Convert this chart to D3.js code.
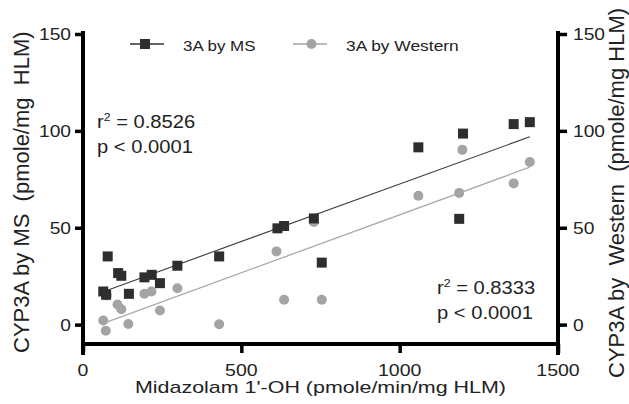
<!DOCTYPE html>
<html>
<head>
<meta charset="utf-8">
<script src="https://cdn.jsdelivr.net/npm/d3@7"></script>
<style>
  html, body { margin: 0; padding: 0; background: #fff; }
  svg { display: block; }
  text { font-family: "Liberation Sans", Arial, Helvetica, sans-serif; fill: #222; }
</style>
</head>
<body>
<svg id="chart" width="629" height="404"></svg>
<script>
// ---- data ----
const msX = [64, 73, 78, 111, 121, 145, 194, 217, 243, 298, 430, 614, 635, 729, 754, 1059, 1188, 1200, 1360, 1411];
const msY = [17.1, 15.4, 35.2, 26.6, 25.2, 15.9, 24.4, 25.7, 21.4, 30.4, 35.2, 49.7, 50.9, 54.8, 32.0, 91.5, 54.6, 98.6, 103.5, 104.5];
const wbX = [64, 72, 75, 109, 121, 143, 194, 216, 243, 298, 430, 611, 635, 729, 754, 1059, 1188, 1198, 1360, 1411];
const wbY = [2.1, -3.1, 15.0, 10.4, 7.9, 0.3, 15.9, 17.1, 7.3, 18.8, 0.2, 37.8, 12.8, 53.0, 12.8, 66.5, 68.0, 90.2, 72.9, 83.9];
const xTicks = [0, 500, 1000, 1500];
const yTicks = [0, 50, 100, 150];
const seriesNames = ["3A by MS", "3A by Western"];
const statsMS = ["0.8526", "p < 0.0001"];
const statsWB = ["0.8333", "p < 0.0001"];
const xTitle = "Midazolam 1'-OH (pmole/min/mg HLM)";
const yTitleL = "CYP3A by MS\u00a0\u00a0(pmole/mg\u00a0\u00a0HLM)";
const yTitleR = "CYP3A by\u00a0\u00a0Western\u00a0\u00a0(pmole/mg HLM)";

const svg = d3.select("#chart");
const x = d3.scaleLinear().domain([0, 1500]).range([83, 558]);
const y = d3.scaleLinear().domain([-10, 150]).range([344, 34]);

const darkCol = "#2e2e2e", lightCol = "#a4a4a4";

// regression
function fit(xs, ys) {
  const mx = d3.mean(xs), my = d3.mean(ys);
  let sxy = 0, sxx = 0;
  xs.forEach((v, i) => { sxy += (v - mx) * (ys[i] - my); sxx += (v - mx) * (v - mx); });
  const b = sxy / sxx, a = my - b * mx;
  const x0 = d3.min(xs), x1 = d3.max(xs);
  return [[x0, a + b * x0], [x1, a + b * x1]];
}
const line = d3.line().x(d => x(d[0])).y(d => y(d[1]));

svg.append("path").attr("d", line(fit(wbX, wbY)))
  .attr("stroke", "#a8a8a8").attr("stroke-width", 1.3).attr("fill", "none");
svg.append("path").attr("d", line(fit(msX, msY)))
  .attr("stroke", "#3a3a3a").attr("stroke-width", 1.1).attr("fill", "none");

// points
svg.append("g").selectAll("circle").data(wbX).join("circle")
  .attr("cx", (d) => x(d)).attr("cy", (d, i) => y(wbY[i])).attr("r", 5)
  .attr("fill", lightCol);
svg.append("g").selectAll("rect").data(msX).join("rect")
  .attr("x", d => x(d) - 5).attr("y", (d, i) => y(msY[i]) - 5)
  .attr("width", 10).attr("height", 10).attr("fill", darkCol);

// axes
const axW = 4;
const left = svg.append("g").attr("transform", "translate(83,0)")
  .call(d3.axisLeft(y).tickValues(yTicks).tickSize(8).tickSizeOuter(0).tickFormat(""));
const right = svg.append("g").attr("transform", "translate(558,0)")
  .call(d3.axisRight(y).tickValues(yTicks).tickSize(9).tickSizeOuter(0).tickFormat(""));
const bottom = svg.append("g").attr("transform", "translate(0,344)")
  .call(d3.axisBottom(x).tickValues(xTicks).tickSize(9).tickSizeOuter(0).tickFormat(""));
[left, right, bottom].forEach(g => {
  g.select(".domain").attr("stroke", "#000").attr("stroke-width", axW).attr("stroke-linecap", "square");
  g.selectAll(".tick line").attr("stroke", "#000").attr("stroke-width", axW - 0.5);
});
// vertical axis lines extend down to the x tick length
left.select(".domain").attr("d", `M0,${y(150) - 1}V${344 + 9}`);
right.select(".domain").attr("d", `M0,${y(150) - 1}V${344 + 9}`);
bottom.select(".domain").attr("d", `M83,0H558`);

function sText(px, py, str, size, sx, anchor) {
  return svg.append("text").attr("transform", `translate(${px},${py}) scale(${sx},1)`)
    .attr("font-size", size).attr("text-anchor", anchor || "start").text(str);
}

// tick labels
yTicks.forEach(v => {
  sText(71, y(v) + 6, String(v), 16, 1.2, "end");
  sText(573, y(v) + 6, String(v), 16, 1.2, "start");
});
xTicks.forEach(v => sText(x(v), 376, String(v), 16, 1.22, "middle"));

// axis titles
svg.append("text").attr("x", 320.5).attr("y", 393).attr("font-size", 17)
  .attr("text-anchor", "middle").attr("textLength", 371).attr("lengthAdjust", "spacingAndGlyphs")
  .text(xTitle);
svg.append("text").attr("transform", "translate(28.5,353) rotate(-90)")
  .attr("font-size", 22).attr("text-anchor", "start").text(yTitleL);
svg.append("text").attr("transform", "translate(624,378) rotate(-90)")
  .attr("font-size", 22).attr("text-anchor", "start").text(yTitleR);

// legend
const lg = svg.append("g");
lg.append("line").attr("x1", 130).attr("x2", 164).attr("y1", 44).attr("y2", 44).attr("stroke", "#333").attr("stroke-width", 1.5);
lg.append("rect").attr("x", 140).attr("y", 39).attr("width", 10).attr("height", 10).attr("fill", darkCol);
lg.append("line").attr("x1", 293).attr("x2", 327).attr("y1", 44).attr("y2", 44).attr("stroke", lightCol).attr("stroke-width", 1.5);
lg.append("circle").attr("cx", 311.5).attr("cy", 44).attr("r", 5).attr("fill", lightCol);
sText(183, 50.5, seriesNames[0], 15, 1.13);
sText(346, 50.5, seriesNames[1], 15, 1.16);

// annotations
function stat(px, py, vals) {
  const t = svg.append("text").attr("transform", `translate(${px},${py}) scale(1.12,1)`).attr("font-size", 18);
  t.append("tspan").text("r");
  t.append("tspan").attr("font-size", 11).attr("dy", -7).text("2");
  t.append("tspan").attr("dy", 7).text(" = " + vals[0]);
  sText(px, py + 25, vals[1], 18, 1.12);
}
stat(97, 128, statsMS);
stat(437, 294, statsWB);
</script>
</body>
</html>
